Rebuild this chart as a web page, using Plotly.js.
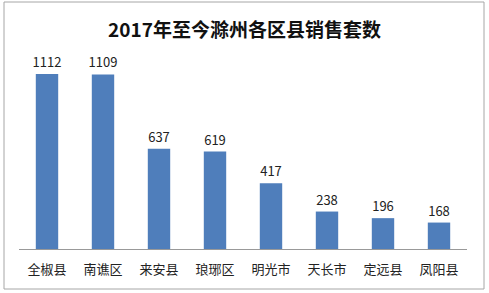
<!DOCTYPE html>
<html><head><meta charset="utf-8">
<script src="https://cdn.plot.ly/plotly-3.0.1.min.js"></script>
<style>html,body{margin:0;padding:0;background:#fff;}#c{width:489px;height:293px;}</style>
</head><body><div id="c"></div>
<script>
const categories = ['全椒县','南谯区','来安县','琅琊区','明光市','天长市','定远县','凤阳县'];
const sales = [1112, 1109, 637, 619, 417, 238, 196, 168];
const titleText = '2017年至今滁州各区县销售套数';

const font = 'Noto Sans CJK SC, sans-serif';
const data = [{
  type: 'bar', x: categories, y: sales,
  marker: {color: '#4F7EBB'},
  text: sales.map(String), textposition: 'outside', cliponaxis: false, constraintext: 'none',
  textfont: {family: font, size: 13, color: '#222'},
  hoverinfo: 'none'
}];
const layout = {
  width: 489, height: 293,
  margin: {l: 19, r: 22, t: 40, b: 44},
  paper_bgcolor: '#fff', plot_bgcolor: '#fff',
  bargap: 0.6,
  showlegend: false,
  title: {text: titleText, font: {family: font, size: 19, color: '#111', weight: 'bold'},
          x: 0.5, xanchor: 'center', y: 0.895, yanchor: 'middle', yref: 'container'},
  xaxis: {showline: true, linecolor: '#999', linewidth: 1, ticks: '', showgrid: false,
          tickfont: {family: font, size: 13, color: '#222'}, ticklabelstandoff: 8, fixedrange: true},
  yaxis: {range: [0, 1328], visible: false, showgrid: false, zeroline: false, fixedrange: true},
  shapes: [{type: 'rect', xref: 'paper', yref: 'paper',
            x0: -15/448, x1: 1 + 17/448, y0: -40/209, y1: 1 + 38/209,
            line: {color: '#A6A6A6', width: 1}, fillcolor: 'rgba(0,0,0,0)'}]
};
Plotly.newPlot('c', data, layout, {displayModeBar: false, staticPlot: true});
</script></body></html>
